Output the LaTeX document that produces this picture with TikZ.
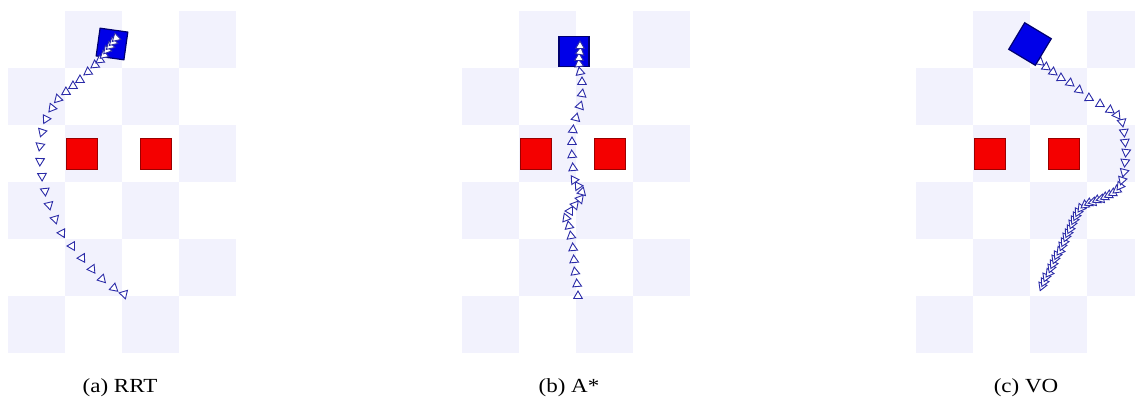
\documentclass[tikz,border=0pt]{standalone}
\usepackage{fontspec}
\setmainfont{Liberation Serif}
\usetikzlibrary{shapes.geometric}
\definecolor{tilelav}{HTML}{F2F2FD}
\definecolor{obsred}{HTML}{F40000}
\definecolor{obsedge}{HTML}{9A0000}
\definecolor{botblue}{HTML}{0000E8}
\definecolor{botedge}{HTML}{000070}
\definecolor{trailblue}{HTML}{2B2BA8}

\begin{document}
\begin{tikzpicture}[
    x=0.5pt, y=-0.5pt,
    tile/.style={fill=tilelav},
    obstacle/.style={fill=obsred, draw=obsedge, line width=0.4pt,
      minimum size=15.5pt, inner sep=0pt},
    robot/.style={fill=botblue, draw=botedge, line width=0.6pt,
      minimum size=#1, inner sep=0pt},
    trail/.style={regular polygon, regular polygon sides=3, minimum size=5pt,
      inner sep=0pt, draw=trailblue, fill=white, line width=0.45pt,
      shape border rotate=-90},
    caption/.style={font=\fontsize{10}{12}\selectfont, anchor=base, xscale=1.15},
  ]
  \useasboundingbox (0,0) rectangle (1135,397);
  \clip (0,0) rectangle (1135,397);

  % =================== BOARDS: tiles + obstacles ===================
  \foreach \px/\pname in {8/a, 462/b, 916/c} {
    \begin{scope}[shift={(\px,11)}]
      \foreach \r in {0,...,5}
        \foreach \c in {0,...,3} {
          \pgfmathtruncatemacro{\odd}{mod(\r+\c,2)}
          \ifnum\odd=1
            \fill[tile] (\c*57,\r*57) rectangle ++(57,57);
          \fi
        }
      \node[obstacle] (obs\pname1) at (73.5,143) {};
      \node[obstacle] (obs\pname2) at (148,143) {};
    \end{scope}
  }

  % =================== (a) RRT ===================
  \node[robot=14pt, rotate=-8] (bota) at (112,44) {};
  % marker heading = direction from the previous pose (+ offset)
  \foreach \x/\y [remember=\x as \lx (initially 126), remember=\y as \ly (initially 298)] in
    {124/294, 114/288, 102/279, 92/269, 82/258, 72/246, 62/233, 55/219, 49/205,
     45/191, 42/176, 40/161, 40/146, 42/132, 46/119, 52/108, 58/99, 66/92, 73/86,
     80/80, 88/72, 95/65, 100/60, 104/55, 107/50, 110/46, 113/42, 116/38} {
    \pgfmathsetmacro{\ang}{atan2(\ly-\y,\x-\lx)-70}
    \node[trail, rotate=\ang] at (\x,\y) {};
  }

  % =================== (b) A* ===================
  \node[robot=15pt] (botb) at (574,51.5) {};
  \foreach \x/\y [remember=\x as \lx (initially 578), remember=\y as \ly (initially 302)] in
    {578/296, 577/284, 575/272, 574/260, 573/248, 571/236, 569/226, 566/218, 570/211,
     575/205, 580/199, 582/192, 578/186, 574/180, 573/168, 572/155, 572/142, 573/130,
     576/118, 580/106, 582/94, 582/82, 580/72, 579/64, 579/58, 580/52, 580/46} {
    \pgfmathsetmacro{\ang}{atan2(\ly-\y,\x-\lx)}
    \node[trail, rotate=\ang] at (\x,\y) {};
  }

  % =================== (c) VO ===================
  \foreach \x/\y [remember=\x as \lx (initially 1040), remember=\y as \ly (initially 291)] in
    {1042/286, 1044/282, 1046/277, 1049/273, 1051/268, 1053/264, 1055/259, 1057/255,
     1060/251, 1062/246, 1064/242, 1066/237, 1068/233, 1070/229, 1072/224, 1074/220,
     1076/216, 1078/212, 1081/208, 1085/205, 1089/203, 1093/202, 1097/200, 1101/199,
     1105/197, 1109/195, 1113/193, 1117/190, 1120/186, 1122/180, 1124/172, 1125/162,
     1126/152, 1125/142, 1124/132, 1122/122, 1117/115, 1110/110, 1100/104, 1089/98,
     1079/90, 1070/83, 1061/78, 1053/72, 1046/67, 1040/62} {
    \pgfmathsetmacro{\ang}{atan2(\ly-\y,\x-\lx)+180}
    \node[trail, rotate=\ang] at (\x,\y) {};
  }
  \node[robot=15.5pt, rotate=-31] (botc) at (1030,44) {};

  % =================== Captions ===================
  \node[caption] (capa) at (120,392) {(a) RRT};
  \node[caption] (capb) at (569,392) {(b) A*};
  \node[caption] (capc) at (1026,392) {(c) VO};

\end{tikzpicture}
\end{document}
